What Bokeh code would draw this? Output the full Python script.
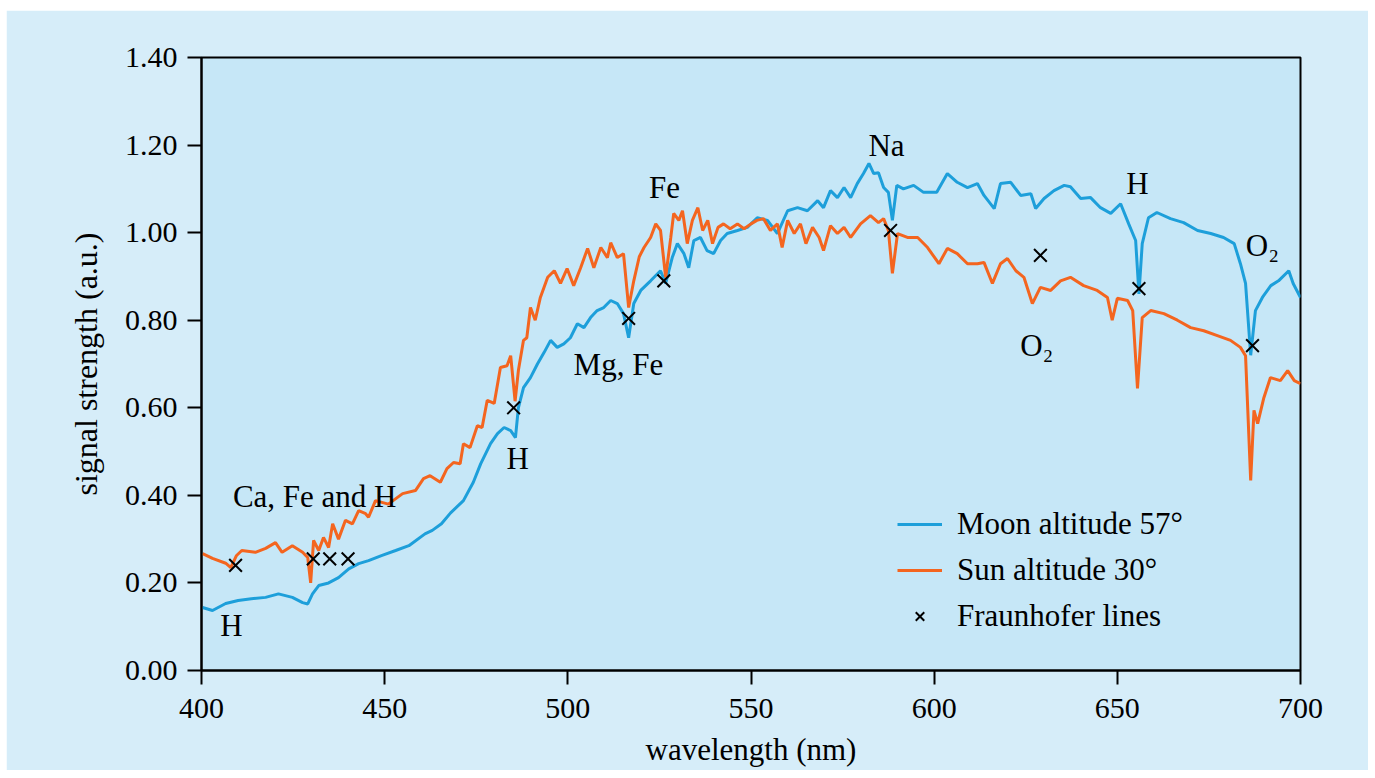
from bokeh.plotting import figure
from bokeh.models import (Legend, LegendItem, Range1d, FixedTicker,
                          PrintfTickFormatter, ColumnDataSource)
from bokeh.core.properties import value
from bokeh.embed import file_html
from bokeh.resources import INLINE

# ---------------- data ----------------
sun_wl = [400.3, 403, 406.6, 408, 409.5, 411, 414.7, 417.5, 420.2, 422, 424.8, 427.6,
          429, 429.8, 430.6, 432, 433.3, 434.7, 435.8, 437.4, 439.3, 441.2, 442.9,
          444.8, 445.6, 447.5, 451, 454.9, 458.4, 460.6, 462.4, 465.2, 467, 468.8,
          470.6, 471.5, 473.3, 475.3, 476.6, 478, 479.9, 481.6, 483.4, 484.4, 485.6,
          486.5, 487.9, 488.8, 489.8, 491.1, 492.5, 494.5, 496.3, 498, 499.8, 501.6,
          503.5, 505.4, 507.1, 509, 510.8, 511.7, 513.5, 515.2, 516.6, 518, 519.5,
          520.8, 522.6, 524, 525.3, 526.7, 528.1, 528.9, 530.3, 531.3, 532.6, 534,
          535.5, 536.8, 538.2, 539.5, 541, 542.5, 544.3, 546.3, 548.1, 550, 551.6,
          553.4, 555.3, 557.2, 558.5, 560, 561.8, 563.5, 565, 566.8, 568.6, 569.8,
          571.7, 573.6, 575.4, 577.2, 579.9, 582.6, 584.8, 586.2, 587.5, 588.6, 590,
          592.7, 595.5, 598.2, 601.3, 603.6, 606.3, 609.1, 611.8, 613.6, 615.9, 618.1,
          620, 622.3, 624.5, 626.8, 629, 631.8, 634.5, 637.2, 640.8, 644.5, 647.3,
          648.6, 650, 652.8, 654.2, 655.5, 656.8, 659.1, 662.7, 666.4, 670, 673.6,
          677.3, 680.9, 683.6, 685, 686.4, 687.3, 688.3, 690, 691.8, 694.5, 696.5,
          698.3, 700]
sun_val = [0.267, 0.256, 0.245, 0.235, 0.262, 0.274, 0.27, 0.279, 0.292, 0.27, 0.285, 0.27,
           0.258, 0.20, 0.297, 0.274, 0.304, 0.281, 0.335, 0.30, 0.343, 0.335, 0.365,
           0.358, 0.35, 0.388, 0.38, 0.404, 0.411, 0.438, 0.445, 0.43, 0.461, 0.475,
           0.472, 0.518, 0.509, 0.559, 0.555, 0.617, 0.61, 0.692, 0.696, 0.719, 0.615,
           0.685, 0.754, 0.76, 0.829, 0.80, 0.852, 0.898, 0.913, 0.884, 0.918, 0.879,
           0.92, 0.964, 0.92, 0.966, 0.943, 0.977, 0.943, 0.952, 0.829, 0.89, 0.945,
           0.966, 0.989, 1.02, 1.005, 0.898, 0.989, 1.044, 1.028, 1.05, 0.975, 1.028,
           1.057, 1.005, 1.028, 0.975, 1.012, 1.02, 1.009, 1.02, 1.009, 1.02, 1.028,
           1.032, 1.005, 1.02, 0.966, 1.028, 0.998, 1.02, 0.975, 1.012, 0.989, 0.959,
           1.016, 0.998, 1.012, 0.989, 1.02, 1.039, 1.023, 1.032, 1.005, 0.907, 0.998,
           0.989, 0.989, 0.966, 0.929, 0.964, 0.952, 0.929, 0.929, 0.932, 0.884, 0.929,
           0.941, 0.913, 0.898, 0.838, 0.875, 0.868, 0.89, 0.898, 0.879, 0.868, 0.852,
           0.80, 0.85, 0.845, 0.822, 0.644, 0.806, 0.822, 0.815, 0.80, 0.783, 0.776,
           0.765, 0.754, 0.738, 0.719, 0.434, 0.594, 0.564, 0.623, 0.669, 0.662, 0.685,
           0.662, 0.655]

moon_wl = [400.3, 403, 406.6, 410, 413.6, 417.5, 421, 424.8, 427.6, 429, 430.3, 432,
           434.7, 437.4, 440.2, 442.9, 445.6, 449.3, 453, 456.6, 461, 463, 465.5, 468,
           471.5, 474.2, 476.2, 478.9, 480.8, 482.6, 484.4, 485.7, 486.5, 487.9, 489.8,
           491.7, 493.5, 495.3, 497.1, 498.9, 500.7, 502.6, 504.4, 506.2, 508, 509.8,
           511.7, 513.5, 515.2, 516.6, 518, 519.9, 522.6, 525.3, 526.7, 528.5, 529.9,
           531.7, 533, 534.4, 536.2, 538, 539.8, 541.7, 543.5, 546.3, 549, 551.7, 554.5,
           557.2, 560, 562.7, 565.4, 568.2, 569.8, 571.7, 573.6, 575.4, 577.2, 579,
           580.7, 582.2, 583.5, 584.8, 586.2, 587.5, 588.6, 589.8, 591.6, 594.4, 597.1,
           600.7, 603.6, 606.3, 609.1, 611.8, 613.6, 616.4, 618.1, 620.9, 623.6, 626.4,
           627.7, 630, 632.7, 635.5, 637.2, 640, 642.7, 645.4, 648.2, 650.9, 653.1, 655,
           655.9, 656.8, 658.5, 660.8, 664.5, 668.1, 671.9, 675.5, 679, 681.9, 683.6,
           685, 686.4, 687.7, 689.6, 691.9, 694, 696.8, 698, 700]
moon_val = [0.144, 0.137, 0.153, 0.16, 0.164, 0.167, 0.175, 0.167, 0.155, 0.152, 0.175, 0.194,
            0.20, 0.212, 0.232, 0.244, 0.251, 0.263, 0.274, 0.285, 0.312, 0.32, 0.335, 0.36,
            0.388, 0.43, 0.472, 0.518, 0.541, 0.555, 0.548, 0.532, 0.60, 0.646, 0.669,
            0.70, 0.726, 0.754, 0.738, 0.746, 0.76, 0.792, 0.783, 0.806, 0.822, 0.829,
            0.845, 0.838, 0.815, 0.76, 0.838, 0.868, 0.89, 0.913, 0.884, 0.943, 0.975,
            0.952, 0.92, 0.982, 0.989, 0.959, 0.952, 0.982, 0.998, 1.005, 1.012, 1.034, 1.028,
            0.998, 1.05, 1.057, 1.05, 1.073, 1.057, 1.096, 1.08, 1.103, 1.08, 1.112,
            1.135, 1.158, 1.135, 1.137, 1.103, 1.092, 1.028, 1.108, 1.10, 1.108, 1.092,
            1.092, 1.135, 1.115, 1.103, 1.112, 1.085, 1.055, 1.112, 1.115, 1.085, 1.089,
            1.055, 1.078, 1.096, 1.108, 1.105, 1.078, 1.08, 1.057, 1.044, 1.066, 1.02, 0.982,
            0.86, 0.975, 1.034, 1.046, 1.032, 1.023, 1.005, 0.998, 0.989, 0.975, 0.929,
            0.884, 0.72, 0.822, 0.852, 0.879, 0.89, 0.913, 0.884, 0.852]

fraunhofer_wl = [409.3, 430.5, 435.0, 440.0, 485.2, 516.6, 526.2, 588.1, 629.0, 655.9, 686.9]
fraunhofer_val = [0.24, 0.255, 0.255, 0.255, 0.60, 0.804, 0.89, 1.005, 0.948, 0.872, 0.742]

note_text = ["H", "Ca, Fe and H", "H", "Mg, Fe", "Fe", "Na", "O\u2082", "H", "O\u2082"]
note_wl = [408.2, 430.9, 486.3, 513.8, 526.4, 587.0, 628.0, 655.5, 689.6]
note_val = [0.103, 0.397, 0.484, 0.70, 1.103, 1.199, 0.742, 1.112, 0.97]

x_ticks = [400, 450, 500, 550, 600, 650, 700]
y_ticks = [0.0, 0.2, 0.4, 0.6, 0.8, 1.0, 1.2, 1.4]

# ---------------- styling ----------------
FONT = "Liberation Serif"
BLUE = "#1d9fda"
ORANGE = "#f4651f"

p = figure(width=1362, height=760, output_backend="svg", toolbar_location=None,
           x_range=Range1d(400, 700), y_range=Range1d(0, 1.4),
           min_border_left=195, min_border_top=47, min_border_right=68,
           min_border_bottom=100)
p.margin = (10, 0, 0, 6)
p.background_fill_color = "#c6e7f7"
p.border_fill_color = "#d6edf9"
p.outline_line_color = "black"
p.outline_line_width = 2
p.grid.visible = False

for ax in (p.xaxis[0], p.yaxis[0]):
    ax.axis_line_width = 2
    ax.axis_line_color = "black"
    ax.major_tick_line_width = 2
    ax.major_tick_line_color = "black"
    ax.major_tick_out = 14
    ax.major_tick_in = 0
    ax.minor_tick_line_color = None
    ax.major_label_text_font = FONT
    ax.major_label_text_font_size = "30px"
    ax.major_label_text_color = "black"
    ax.axis_label_text_font = FONT
    ax.axis_label_text_font_style = "normal"
    ax.axis_label_text_color = "black"

p.xaxis[0].ticker = FixedTicker(ticks=x_ticks)
p.yaxis[0].ticker = FixedTicker(ticks=y_ticks)
p.yaxis[0].formatter = PrintfTickFormatter(format="%.2f")
p.xaxis[0].axis_label = "wavelength (nm)"
p.yaxis[0].axis_label = "signal strength (a.u.)"
p.xaxis[0].axis_label_text_font_size = "31px"
p.yaxis[0].axis_label_text_font_size = "32px"
p.xaxis[0].major_label_standoff = 14
p.yaxis[0].major_label_standoff = 10
p.xaxis[0].axis_label_standoff = 11
p.yaxis[0].axis_label_standoff = 18

moon = p.line(moon_wl, moon_val, line_color=BLUE, line_width=3)
sun = p.line(sun_wl, sun_val, line_color=ORANGE, line_width=3)
marks = p.scatter(fraunhofer_wl, fraunhofer_val, marker="x", size=18,
                  line_color="black", line_width=2)

notes = ColumnDataSource(dict(x=note_wl, y=note_val, t=note_text))
p.text(x="x", y="y", text="t", source=notes, text_font=value(FONT),
       text_font_size="31px", text_align="center", text_baseline="middle",
       text_color="black")

legend = Legend(items=[LegendItem(label="Moon altitude 57\u00b0", renderers=[moon]),
                       LegendItem(label="Sun altitude 30\u00b0", renderers=[sun]),
                       LegendItem(label="Fraunhofer lines", renderers=[marks])],
                location=(696, 36), background_fill_alpha=0, border_line_color=None,
                label_text_font=FONT, label_text_font_size="31px",
                label_text_color="black",
                glyph_width=45, glyph_height=30, label_height=30, spacing=10,
                padding=0, margin=0, label_standoff=15)
p.add_layout(legend)

open("out.html", "w").write(file_html(p, INLINE))
